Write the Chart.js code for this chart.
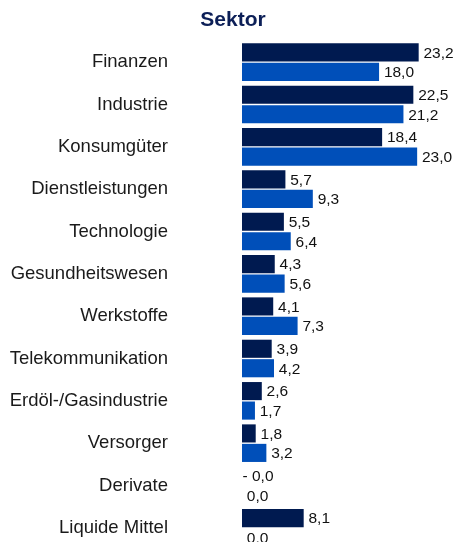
<!DOCTYPE html>
<html lang="de">
<head>
    <meta charset="UTF-8">
    <title>Sektor</title>
    <script src="https://cdn.jsdelivr.net/npm/chart.js"></script>
    <style>
        body {
            margin: 0;
            width: 456px;
            height: 542px;
            overflow: hidden;
            background: #fff;
            font-family: Arial, 'Liberation Sans', sans-serif;
            position: relative;
        }
        .title {
            position: absolute;
            top: 7px;
            left: 0;
            width: 466px;
            text-align: center;
            font-size: 21px;
            font-weight: bold;
            color: #0c1f57;
            z-index: 2;
        }
        canvas {
            position: absolute;
            top: 0;
            left: 0;
        }
    </style>
</head>
<body>
    <div class="title">Sektor</div>
    <canvas id="sectorChart" width="456" height="549"></canvas>

    <script>
        const categories = [
            'Finanzen', 'Industrie', 'Konsumgüter', 'Dienstleistungen', 'Technologie',
            'Gesundheitswesen', 'Werkstoffe', 'Telekommunikation', 'Erdöl-/Gasindustrie',
            'Versorger', 'Derivate', 'Liquide Mittel'
        ];
        const fundValues = [23.2, 22.5, 18.4, 5.7, 5.5, 4.3, 4.1, 3.9, 2.6, 1.8, -0.01, 8.1];
        const benchmarkValues = [18.0, 21.2, 23.0, 9.3, 6.4, 5.6, 7.3, 4.2, 1.7, 3.2, 0.0, 0.0];

        const navy = '#001a50';
        const blue = '#004fb9';

        function fmt(v) {
            const s = Math.abs(v).toFixed(1).replace('.', ',');
            return (v < 0 ? '- ' : ' ') + s;
        }

        // value labels at the end of each bar
        const valueLabels = {
            id: 'valueLabels',
            afterDatasetsDraw(chart) {
                const ctx = chart.ctx;
                const xScale = chart.scales.x;
                ctx.save();
                ctx.font = '15.5px Arial, "Liberation Sans", sans-serif';
                ctx.fillStyle = '#111';
                ctx.textAlign = 'left';
                ctx.textBaseline = 'middle';
                chart.data.datasets.forEach((ds, di) => {
                    chart.getDatasetMeta(di).data.forEach((bar, i) => {
                        const v = ds.data[i];
                        const end = Math.max(xScale.getPixelForValue(Math.max(v, 0)), xScale.left);
                        ctx.fillText(fmt(v), end + 0.5, bar.y + 1);
                    });
                });
                ctx.restore();
            }
        };

        new Chart(document.getElementById('sectorChart'), {
            type: 'bar',
            data: {
                labels: categories,
                datasets: [
                    { data: fundValues, backgroundColor: navy },
                    { data: benchmarkValues, backgroundColor: blue }
                ]
            },
            options: {
                indexAxis: 'y',
                responsive: false,
                animation: false,
                layout: { padding: { top: 41, right: 16, bottom: 0, left: 0 } },
                datasets: {
                    bar: { categoryPercentage: 0.92, barPercentage: 0.93 }
                },
                plugins: {
                    legend: { display: false },
                    tooltip: { enabled: false }
                },
                scales: {
                    x: {
                        display: false,
                        min: 0,
                        max: 26
                    },
                    y: {
                        afterFit(scale) {
                            scale.width = 242;
                            scale.paddingTop = 0;
                            scale.paddingBottom = 0;
                        },
                        grid: { display: false, drawTicks: false },
                        border: { display: false },
                        ticks: {
                            padding: 74,
                            color: '#1a1a1a',
                            font: { family: 'Arial, "Liberation Sans", sans-serif', size: 18.5 }
                        }
                    }
                }
            },
            plugins: [valueLabels]
        });
    </script>
</body>
</html>
